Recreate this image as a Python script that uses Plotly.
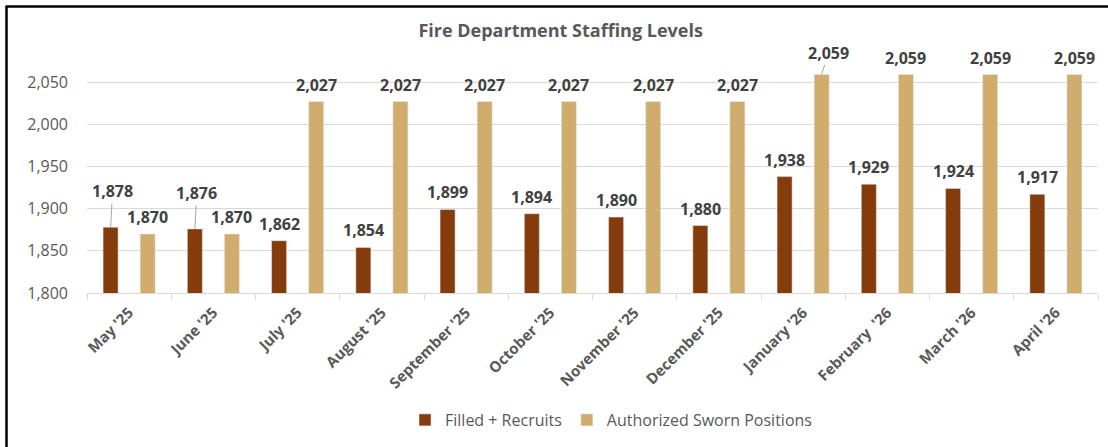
import plotly.graph_objects as go

months = ["May '25", "June '25", "July '25", "August '25", "September '25", "October '25",
          "November '25", "December '25", "January '26", "February\u00a0 '26", "March '26", "April '26"]
filled = [1878, 1876, 1862, 1854, 1899, 1894, 1890, 1880, 1938, 1929, 1924, 1917]
authorized = [1870, 1870, 2027, 2027, 2027, 2027, 2027, 2027, 2059, 2059, 2059, 2059]
y_ticks = [1800, 1850, 1900, 1950, 2000, 2050]

BROWN = "#843C0C"
GOLD = "#D0AD6D"
FONT = "Open Sans"

W, H = 1108, 447
ML, MR, MT, MB = 87, 10, 72, 154
PW = W - ML - MR
PH = H - MT - MB


def px_x(px):
    return (px - ML) / PW


def px_y(py):
    return (H - MB - py) / PH


fig = go.Figure()
fig.add_trace(go.Bar(name="Filled + Recruits", x=months, y=filled, marker_color=BROWN))
fig.add_trace(go.Bar(name="Authorized Sworn Positions", x=months, y=authorized, marker_color=GOLD))

# leader-line label offsets (style only): (series, index) -> (ax, ay)
leaders = {(0, 0): (2, -36), (0, 1): (2, -36), (1, 8): (7, -22)}

label_font = dict(family=FONT, size=16, color="#404040", weight="bold")
annotations = []
for s, (vals, shift) in enumerate([(filled, -18.5), (authorized, 18.5)]):
    for i, (m, v) in enumerate(zip(months, vals)):
        txt = f"{v:,}"
        if (s, i) in leaders:
            ax, ay = leaders[(s, i)]
            annotations.append(dict(x=m, y=v, xref="x", yref="y", text=txt, xshift=shift,
                                    showarrow=True, ax=ax, ay=ay, arrowhead=0, arrowwidth=1,
                                    arrowcolor="#A6A6A6", standoff=0, font=label_font))
        else:
            annotations.append(dict(x=m, y=v, xref="x", yref="y", text=txt, xshift=shift,
                                    yshift=17, showarrow=False, font=label_font))

# outer frame (black, left and top edges visible)
shapes = [
    dict(type="line", xref="paper", yref="paper", x0=px_x(6.5), y0=px_y(460), x1=px_x(6.5), y1=px_y(6.5),
         line=dict(color="black", width=2.5)),
    dict(type="line", xref="paper", yref="paper", x0=px_x(5.5), y0=px_y(6.5), x1=px_x(1115), y1=px_y(6.5),
         line=dict(color="black", width=2.5)),
]

fig.update_layout(
    width=W, height=H,
    margin=dict(l=ML, r=MR, t=MT, b=MB),
    paper_bgcolor="white", plot_bgcolor="white",
    barmode="group", bargap=0.12, bargroupgap=0.595,
    title=dict(text="<b>Fire Department Staffing Levels</b>", x=0.506, xanchor="center",
               y=1 - 31 / H, yanchor="middle",
               font=dict(family=FONT, size=18, color="#595959")),
    xaxis=dict(tickangle=-45, tickfont=dict(family=FONT, size=15, color="#595959", weight="bold"),
               showline=True, linecolor="#D9D9D9", linewidth=1,
               ticks="outside", tickson="boundaries", ticklen=6, tickcolor="#D9D9D9",
               showgrid=False, ticklabelstandoff=4),
    yaxis=dict(range=[1800, 2062], tickvals=y_ticks, tickformat=",",
               tickfont=dict(family=FONT, size=16, color="#595959"),
               showgrid=True, gridcolor="#D9D9D9", gridwidth=1,
               showline=False, zeroline=False, ticklabelstandoff=18),
    legend=dict(orientation="h", x=px_x(611), xanchor="center", y=px_y(420), yanchor="middle",
                font=dict(family=FONT, size=16, color="#595959"), itemwidth=30,
                traceorder="normal"),
    annotations=annotations,
    shapes=shapes,
    showlegend=True,
)

fig.write_html("out.html", config={"displayModeBar": False},
               post_script="document.body.style.margin='0';document.body.style.overflow='hidden';")
